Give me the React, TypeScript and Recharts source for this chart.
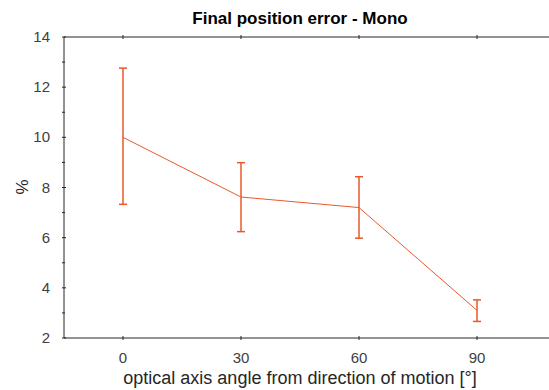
import { LineChart, Line, XAxis, YAxis, ErrorBar } from "recharts";

// optical axis angle (deg) vs final position error (%)
const angles = [0, 30, 60, 90];
const meanErr = [10.0, 7.62, 7.2, 3.1];
const lowErr = [7.33, 6.24, 5.98, 2.66];
const highErr = [12.76, 8.99, 8.43, 3.52];

const xTicks = [0, 30, 60, 90];
const yTicks = [2, 3, 4, 5, 6, 7, 8, 9, 10, 11, 12, 13, 14];

const data = angles.map((a, i) => ({
  angle: a,
  value: meanErr[i],
  err: [meanErr[i] - lowErr[i], highErr[i] - meanErr[i]],
}));

const AXIS = "#262626";
const TEXT = "#404040";
const ORANGE = "#E8592A";
const FONT = "'Liberation Sans', Arial, sans-serif";

const BottomTick = ({ x, y, payload }: any) => (
  <g>
    <line x1={x} x2={x} y1={y} y2={y - 4} stroke={AXIS} />
    <text x={x} y={y + 23} textAnchor="middle" fill={TEXT} fontSize={15} fontFamily={FONT}>
      {payload.value}
    </text>
  </g>
);

const TopTick = ({ x, y }: any) => (
  <line x1={x} x2={x} y1={y} y2={y + 4} stroke={AXIS} />
);

const LeftTick = ({ x, y, payload }: any) => {
  const major = payload.value % 2 === 0;
  return (
    <g>
      <line x1={x} x2={x + (major ? 4 : 3)} y1={y} y2={y} stroke={AXIS} />
      {major && (
        <text x={x - 12} y={y + 5} textAnchor="end" fill={TEXT} fontSize={15} fontFamily={FONT}>
          {payload.value}
        </text>
      )}
    </g>
  );
};

export default function App() {
  return (
    <div style={{ position: "absolute", left: 0, top: 0, width: 549, height: 390, background: "#fff", fontFamily: FONT, overflow: "hidden" }}>
      <div
        style={{
          position: "absolute",
          left: 0,
          width: 600,
          top: 8,
          textAlign: "center",
          fontSize: 17,
          fontWeight: "bold",
          color: "#000",
          lineHeight: "22px",
        }}
      >
        Final position error - Mono
      </div>
      <div
        style={{
          position: "absolute",
          left: 0,
          width: 600,
          top: 367,
          textAlign: "center",
          fontSize: 18,
          color: "#262626",
          lineHeight: "22px",
        }}
      >
        optical axis angle from direction of motion [°]
      </div>
      <div
        style={{
          position: "absolute",
          left: 12,
          top: 176,
          width: 22,
          textAlign: "center",
          fontSize: 17,
          color: "#262626",
          transform: "rotate(-90deg)",
          lineHeight: "22px",
        }}
      >
        %
      </div>
      <LineChart width={549} height={390} data={data} margin={{ top: 0, right: 0, bottom: 0, left: 0 }}>
        <XAxis
          xAxisId="top"
          orientation="top"
          dataKey="angle"
          type="number"
          domain={[-15, 108.3]}
          ticks={xTicks}
          height={37}
          tickSize={0}
          tickLine={false}
          axisLine={{ stroke: AXIS }}
          tick={<TopTick />}
          allowDataOverflow
        />
        <XAxis
          dataKey="angle"
          type="number"
          domain={[-15, 108.3]}
          ticks={xTicks}
          height={52}
          tickSize={0}
          tickLine={false}
          axisLine={{ stroke: AXIS }}
          tick={<BottomTick />}
          allowDataOverflow
        />
        <YAxis
          type="number"
          domain={[2, 14]}
          ticks={yTicks}
          width={64}
          tickSize={0}
          tickLine={false}
          axisLine={{ stroke: AXIS }}
          tick={<LeftTick />}
          interval={0}
        />
        <Line
          dataKey="value"
          stroke={ORANGE}
          strokeWidth={1}
          dot={false}
          isAnimationActive={false}
        >
          <ErrorBar dataKey="err" width={4} stroke={ORANGE} strokeWidth={1.5} direction="y" isAnimationActive={false} />
        </Line>
      </LineChart>
    </div>
  );
}
